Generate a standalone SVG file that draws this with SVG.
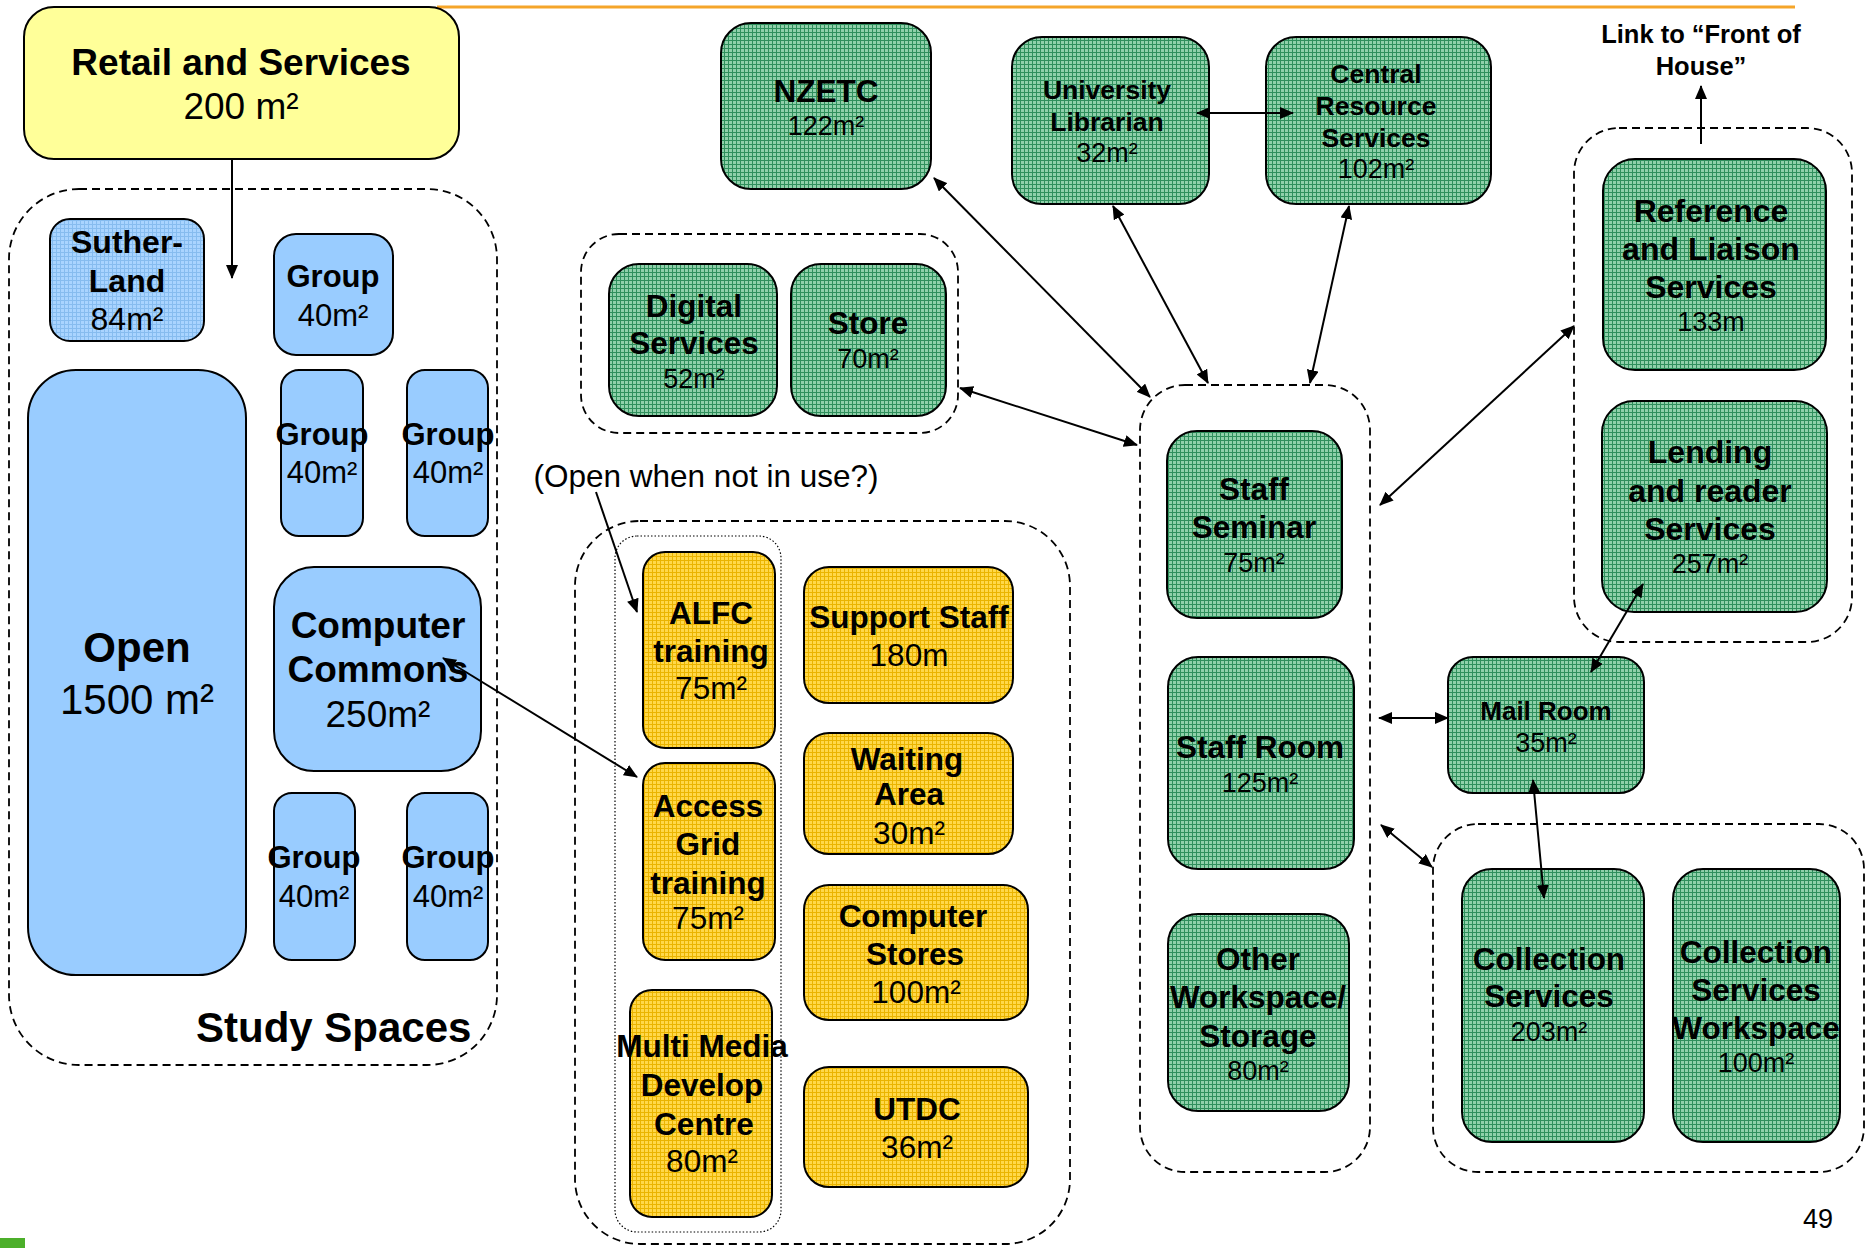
<svg xmlns="http://www.w3.org/2000/svg" width="1870" height="1248" viewBox="0 0 1870 1248">
  <defs>
    <!-- fine woven textures used by the room fills -->
    <pattern id="texGreen" width="4" height="4" patternUnits="userSpaceOnUse">
      <rect width="4" height="4" fill="#8fd0aa"/>
      <path d="M0 0.5H4M0.5 0V4" stroke="#2f8f5c" stroke-width="1"/>
    </pattern>
    <pattern id="texYellow" width="4" height="4" patternUnits="userSpaceOnUse">
      <rect width="4" height="4" fill="#ffd84a"/>
      <path d="M0 0.5H4M0.5 0V4" stroke="#eab400" stroke-width="1"/>
    </pattern>
    <pattern id="texBlue" width="4" height="4" patternUnits="userSpaceOnUse">
      <rect width="4" height="4" fill="#a9d4ff"/>
      <path d="M0 0.5H4M0.5 0V4" stroke="#86bcef" stroke-width="1"/>
    </pattern>
    <marker id="ah" viewBox="0 0 14 12" refX="13" refY="6" markerWidth="14" markerHeight="12" markerUnits="userSpaceOnUse" orient="auto-start-reverse">
      <path d="M0,0 L14,6 L0,12 z" fill="#000"/>
    </marker>
  </defs>
  <style>
    text { font-family: "Liberation Sans", Arial, sans-serif; fill: #000; text-anchor: middle; }
    .box { stroke: #000; stroke-width: 2; }
    .green { fill: url(#texGreen); }
    .yellow { fill: url(#texYellow); }
    .blue { fill: #99ccff; }
    .blueTex { fill: url(#texBlue); }
    .retail { fill: #ffff99; }
    .zone { fill: none; stroke: #000; stroke-width: 1.8; stroke-dasharray: 8 5; }
    .dotzone { fill: none; stroke: #000; stroke-width: 1.2; stroke-dasharray: 1.5 2; }
    .lbl { font-weight: bold; font-size: 31.5px; }
    .num { font-size: 27px; }
    .ynum { font-size: 31.5px; }
    .edge { fill: none; stroke: #000; stroke-width: 2; }
  </style>

  <rect width="1870" height="1248" fill="#fff"/>

  <!-- header rule -->
  <path d="M437,7 H1795" stroke="#f5a52a" stroke-width="3" fill="none"/>

  <!-- zones -->
  <g id="zones">
    <rect class="zone" x="9" y="189" width="488" height="876" rx="70"/>
    <rect class="zone" x="581" y="234" width="377" height="199" rx="38"/>
    <rect class="zone" x="575" y="521" width="495" height="723" rx="65"/>
    <rect class="dotzone" x="615" y="536" width="166" height="696" rx="22"/>
    <rect class="zone" x="1140" y="385" width="230" height="787" rx="45"/>
    <rect class="zone" x="1574" y="128" width="278" height="514" rx="45"/>
    <rect class="zone" x="1433" y="824" width="431" height="348" rx="45"/>
    <text x="196" y="1042" style="font-weight:bold;font-size:42px;text-anchor:start">Study Spaces</text>
  </g>

  <!-- study spaces -->
  <g id="retail">
    <rect class="box retail" x="24" y="7" width="435" height="152" rx="30"/>
    <text x="241" y="75" style="font-weight:bold;font-size:37px">Retail and Services</text>
    <text x="241" y="119" style="font-size:37px">200 m²</text>
  </g>
  <g id="sutherland">
    <rect class="box blueTex" x="50" y="219" width="154" height="122" rx="20"/>
    <text x="127" y="253" style="font-weight:bold;font-size:32px">Suther-</text>
    <text x="127" y="292" style="font-weight:bold;font-size:32px">Land</text>
    <text x="127" y="330" style="font-size:32px">84m²</text>
  </g>
  <g id="group-1">
    <rect class="box blue" x="274" y="234" width="119" height="121" rx="22"/>
    <text x="333" y="287" style="font-weight:bold;font-size:31px">Group</text>
    <text x="333" y="326" style="font-size:31px">40m²</text>
  </g>
  <g id="open">
    <rect class="box blue" x="28" y="370" width="218" height="605" rx="48"/>
    <text x="137" y="662" style="font-weight:bold;font-size:42px">Open</text>
    <text x="137" y="714" style="font-size:42px">1500 m²</text>
  </g>
  <g id="group-2">
    <rect class="box blue" x="281" y="370" width="82" height="166" rx="18"/>
    <text x="322" y="445" style="font-weight:bold;font-size:31px">Group</text>
    <text x="322" y="483" style="font-size:31px">40m²</text>
  </g>
  <g id="group-3">
    <rect class="box blue" x="407" y="370" width="81" height="166" rx="18"/>
    <text x="448" y="445" style="font-weight:bold;font-size:31px">Group</text>
    <text x="448" y="483" style="font-size:31px">40m²</text>
  </g>
  <g id="computer-commons">
    <rect class="box blue" x="274" y="567" width="207" height="204" rx="40"/>
    <text x="378" y="638" style="font-weight:bold;font-size:37px">Computer</text>
    <text x="378" y="682" style="font-weight:bold;font-size:37px">Commons</text>
    <text x="378" y="727" style="font-size:37px">250m²</text>
  </g>
  <g id="group-4">
    <rect class="box blue" x="274" y="793" width="81" height="167" rx="18"/>
    <text x="314" y="868" style="font-weight:bold;font-size:31px">Group</text>
    <text x="314" y="907" style="font-size:31px">40m²</text>
  </g>
  <g id="group-5">
    <rect class="box blue" x="407" y="793" width="81" height="167" rx="18"/>
    <text x="448" y="868" style="font-weight:bold;font-size:31px">Group</text>
    <text x="448" y="907" style="font-size:31px">40m²</text>
  </g>

  <!-- green service rooms -->
  <g id="nzetc">
    <rect class="box green" x="721" y="23" width="210" height="166" rx="30"/>
    <text class="lbl" x="826" y="102">NZETC</text>
    <text class="num" x="826" y="135">122m²</text>
  </g>
  <g id="digital-services">
    <rect class="box green" x="609" y="264" width="168" height="152" rx="30"/>
    <text class="lbl" x="694" y="317">Digital</text>
    <text class="lbl" x="694" y="354">Services</text>
    <text class="num" x="694" y="388">52m²</text>
  </g>
  <g id="store">
    <rect class="box green" x="791" y="264" width="155" height="152" rx="30"/>
    <text class="lbl" x="868" y="334">Store</text>
    <text class="num" x="868" y="368">70m²</text>
  </g>
  <g id="university-librarian">
    <rect class="box green" x="1012" y="37" width="197" height="167" rx="30"/>
    <text x="1107" y="99" style="font-weight:bold;font-size:26.5px">University</text>
    <text x="1107" y="131" style="font-weight:bold;font-size:26.5px">Librarian</text>
    <text class="num" x="1107" y="162">32m²</text>
  </g>
  <g id="central-resource-services">
    <rect class="box green" x="1266" y="37" width="225" height="167" rx="30"/>
    <text x="1376" y="83" style="font-weight:bold;font-size:26.5px">Central</text>
    <text x="1376" y="115" style="font-weight:bold;font-size:26.5px">Resource</text>
    <text x="1376" y="147" style="font-weight:bold;font-size:26.5px">Services</text>
    <text class="num" x="1376" y="178">102m²</text>
  </g>
  <g id="front-of-house">
    <text x="1701" y="43" style="font-weight:bold;font-size:25.5px">Link to “Front of</text>
    <text x="1701" y="75" style="font-weight:bold;font-size:25.5px">House”</text>
  </g>
  <g id="reference-liaison">
    <rect class="box green" x="1603" y="159" width="223" height="211" rx="32"/>
    <text x="1711" y="222" style="font-weight:bold;font-size:32px">Reference</text>
    <text x="1711" y="260" style="font-weight:bold;font-size:32px">and Liaison</text>
    <text x="1711" y="298" style="font-weight:bold;font-size:32px">Services</text>
    <text class="num" x="1711" y="331">133m</text>
  </g>
  <g id="lending-reader">
    <rect class="box green" x="1602" y="401" width="225" height="211" rx="32"/>
    <text x="1710" y="463" style="font-weight:bold;font-size:32px">Lending</text>
    <text x="1710" y="502" style="font-weight:bold;font-size:32px">and reader</text>
    <text x="1710" y="540" style="font-weight:bold;font-size:32px">Services</text>
    <text class="num" x="1710" y="573">257m²</text>
  </g>
  <g id="staff-seminar">
    <rect class="box green" x="1167" y="431" width="175" height="187" rx="30"/>
    <text class="lbl" x="1254" y="500">Staff</text>
    <text class="lbl" x="1254" y="538">Seminar</text>
    <text class="num" x="1254" y="572">75m²</text>
  </g>
  <g id="staff-room">
    <rect class="box green" x="1168" y="657" width="186" height="212" rx="30"/>
    <text class="lbl" x="1260" y="758">Staff Room</text>
    <text class="num" x="1260" y="792">125m²</text>
  </g>
  <g id="other-workspace">
    <rect class="box green" x="1168" y="914" width="181" height="197" rx="30"/>
    <text class="lbl" x="1258" y="970">Other</text>
    <text class="lbl" x="1258" y="1008">Workspace/</text>
    <text class="lbl" x="1258" y="1047">Storage</text>
    <text class="num" x="1258" y="1080">80m²</text>
  </g>
  <g id="mail-room">
    <rect class="box green" x="1448" y="657" width="196" height="136" rx="25"/>
    <text x="1546" y="720" style="font-weight:bold;font-size:26px">Mail Room</text>
    <text class="num" x="1546" y="752">35m²</text>
  </g>
  <g id="collection-services">
    <rect class="box green" x="1462" y="869" width="182" height="273" rx="30"/>
    <text class="lbl" x="1549" y="970">Collection</text>
    <text class="lbl" x="1549" y="1007">Services</text>
    <text class="num" x="1549" y="1041">203m²</text>
  </g>
  <g id="collection-workspace">
    <rect class="box green" x="1673" y="869" width="167" height="273" rx="30"/>
    <text class="lbl" x="1756" y="963">Collection</text>
    <text class="lbl" x="1756" y="1001">Services</text>
    <text class="lbl" x="1756" y="1039">Workspace</text>
    <text class="num" x="1756" y="1072">100m²</text>
  </g>

  <!-- yellow support rooms -->
  <g id="alfc-training">
    <rect class="box yellow" x="643" y="552" width="132" height="196" rx="22"/>
    <text class="lbl" x="711" y="624">ALFC</text>
    <text class="lbl" x="711" y="662">training</text>
    <text class="ynum" x="711" y="699">75m²</text>
  </g>
  <g id="access-grid">
    <rect class="box yellow" x="643" y="763" width="132" height="197" rx="22"/>
    <text class="lbl" x="708" y="817">Access</text>
    <text class="lbl" x="708" y="855">Grid</text>
    <text class="lbl" x="708" y="894">training</text>
    <text class="ynum" x="708" y="929">75m²</text>
  </g>
  <g id="multi-media">
    <rect class="box yellow" x="630" y="990" width="142" height="227" rx="22"/>
    <text class="lbl" x="702" y="1057">Multi Media</text>
    <text class="lbl" x="702" y="1096">Develop</text>
    <text class="lbl" x="704" y="1135">Centre</text>
    <text class="ynum" x="702" y="1172">80m²</text>
  </g>
  <g id="support-staff">
    <rect class="box yellow" x="804" y="567" width="209" height="136" rx="25"/>
    <text class="lbl" x="909" y="628">Support Staff</text>
    <text class="ynum" x="909" y="666">180m</text>
  </g>
  <g id="waiting-area">
    <rect class="box yellow" x="804" y="733" width="209" height="121" rx="25"/>
    <text class="lbl" x="907" y="770">Waiting</text>
    <text class="lbl" x="909" y="805">Area</text>
    <text class="ynum" x="909" y="844">30m²</text>
  </g>
  <g id="computer-stores">
    <rect class="box yellow" x="804" y="885" width="224" height="135" rx="25"/>
    <text class="lbl" x="913" y="927">Computer</text>
    <text class="lbl" x="915" y="965">Stores</text>
    <text class="ynum" x="916" y="1003">100m²</text>
  </g>
  <g id="utdc">
    <rect class="box yellow" x="804" y="1067" width="224" height="120" rx="25"/>
    <text class="lbl" x="917" y="1120">UTDC</text>
    <text class="ynum" x="917" y="1158">36m²</text>
  </g>

  <!-- note -->
  <g id="note-open">
    <text x="706" y="487" style="font-size:31.5px">(Open when not in use?)</text>
  </g>

  <!-- connectors -->
  <g id="connectors">
    <path class="edge" d="M232,159 V278" marker-end="url(#ah)"/>
    <path class="edge" d="M596,492 L637,612" marker-end="url(#ah)"/>
    <path class="edge" d="M443,658 L637,777" marker-start="url(#ah)" marker-end="url(#ah)"/>
    <path class="edge" d="M934,178 L1150,397" marker-start="url(#ah)" marker-end="url(#ah)"/>
    <path class="edge" d="M960,388 L1137,445" marker-start="url(#ah)" marker-end="url(#ah)"/>
    <path class="edge" d="M1113,206 L1208,383" marker-start="url(#ah)" marker-end="url(#ah)"/>
    <path class="edge" d="M1349,206 L1310,383" marker-start="url(#ah)" marker-end="url(#ah)"/>
    <path class="edge" d="M1197,113 H1293" marker-start="url(#ah)" marker-end="url(#ah)"/>
    <path class="edge" d="M1701,144 V86" marker-end="url(#ah)"/>
    <path class="edge" d="M1574,326 L1380,505" marker-start="url(#ah)" marker-end="url(#ah)"/>
    <path class="edge" d="M1643,584 L1591,672" marker-start="url(#ah)" marker-end="url(#ah)"/>
    <path class="edge" d="M1379,718 H1448" marker-start="url(#ah)" marker-end="url(#ah)"/>
    <path class="edge" d="M1533,780 L1544,898" marker-start="url(#ah)" marker-end="url(#ah)"/>
    <path class="edge" d="M1381,825 L1432,867" marker-start="url(#ah)" marker-end="url(#ah)"/>
  </g>

  <!-- footer -->
  <text x="1818" y="1228" style="font-size:27px">49</text>
  <rect x="0" y="1238" width="25" height="10" fill="#4caf2a"/>
</svg>
